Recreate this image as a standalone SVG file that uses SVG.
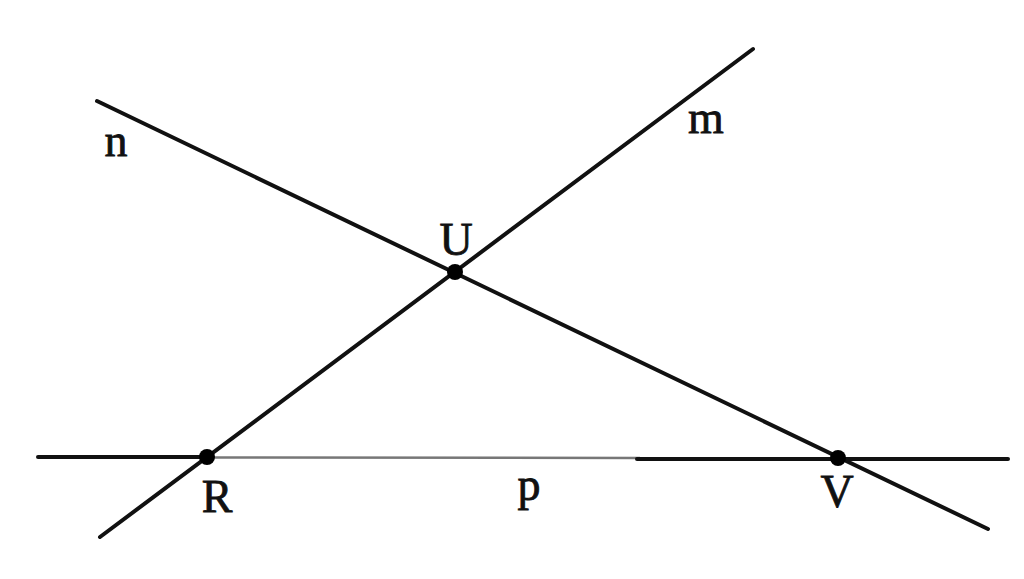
<svg xmlns="http://www.w3.org/2000/svg" width="1024" height="579" viewBox="0 0 1024 579">
<style>
.ln{stroke:#111;stroke-width:4;stroke-linecap:round;fill:none}
.thin{stroke:#777;stroke-width:2.5;fill:none}
.pt{fill:#000}
.lb{font-family:"Liberation Serif","Times New Roman",serif;font-size:46px;fill:#111;stroke:#111;stroke-width:0.8;text-anchor:middle}
</style>
<rect width="1024" height="579" fill="#fff"/>
<g id="connectors">
<line id="line-n" class="ln" x1="97" y1="101" x2="988" y2="529"/>
<line id="line-m" class="ln" x1="100" y1="537" x2="753" y2="49"/>
<line id="line-p-left" class="ln" x1="38" y1="457" x2="207" y2="457"/>
<line id="line-p-mid" class="thin" x1="207" y1="457.5" x2="640" y2="458"/>
<line id="line-p-right" class="ln" x1="637" y1="459" x2="1008" y2="459"/>
</g>
<g id="U"><circle class="pt" cx="455" cy="272" r="8"/><text class="lb" x="456" y="255">U</text></g>
<g id="R"><circle class="pt" cx="207" cy="457" r="8"/><text class="lb" x="217" y="512">R</text></g>
<g id="V"><circle class="pt" cx="838" cy="458" r="8"/><text class="lb" x="837" y="507">V</text></g>
<g id="label-n"><text class="lb" x="116" y="156">n</text></g>
<g id="label-m"><text class="lb" x="706" y="133">m</text></g>
<g id="label-p"><text class="lb" x="529" y="500">p</text></g>
</svg>
